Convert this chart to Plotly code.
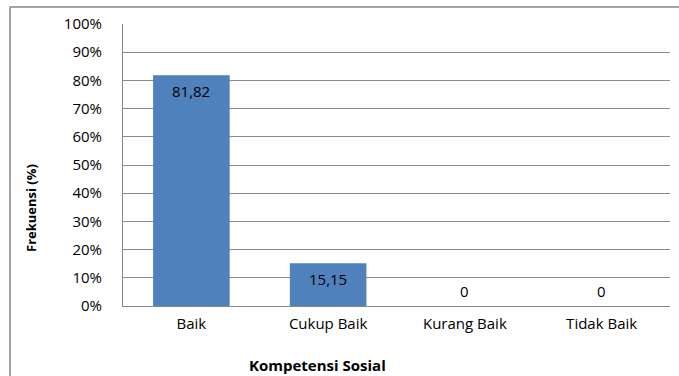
import plotly.graph_objects as go

categories = ["Baik", "Cukup Baik", "Kurang Baik", "Tidak Baik"]
values = [81.82, 15.15, 0, 0]
labels = ["81,82", "15,15", "0", "0"]
y_ticks = [0, 10, 20, 30, 40, 50, 60, 70, 80, 90, 100]
y_tick_labels = [f"{v}%" for v in y_ticks]

FONT = "Open Sans, Lato, sans-serif"

fig = go.Figure()
fig.add_trace(go.Bar(
    x=categories, y=values,
    marker=dict(color="#4F81BD", line=dict(width=0)),
    hoverinfo="x+y",
))

annotations = []
for cat, val, lab in zip(categories, values, labels):
    annotations.append(dict(
        x=cat, y=val, xref="x", yref="y", text=lab, showarrow=False,
        xanchor="center", yanchor="middle",
        yshift=-16 if val > 0 else 15,
        font=dict(family=FONT, size=15, color="black"),
    ))

annotations += [
    dict(text="<b>Kompetensi Sosial</b>", xref="paper", yref="paper",
         x=(317 - 123) / 547, y=(306 - 365) / 282, showarrow=False,
         font=dict(family=FONT, size=15), xanchor="center", yanchor="middle"),
    dict(text="<b>Frekuensi (%)</b>", xref="paper", yref="paper",
         x=(31 - 123) / 547, y=(306 - 208) / 282, showarrow=False, textangle=-90,
         font=dict(family=FONT, size=13), xanchor="center", yanchor="middle"),
]

fig.update_layout(
    width=679, height=376,
    margin=dict(l=123, r=9, t=24, b=70),
    paper_bgcolor="white", plot_bgcolor="white",
    bargap=0.44,
    showlegend=False,
    font=dict(family=FONT, size=15, color="black"),
    xaxis=dict(showgrid=False, showline=True, linecolor="#888888", linewidth=1,
               ticks="", tickfont=dict(size=15), ticklabelstandoff=4),
    yaxis=dict(range=[0, 100], tickvals=y_ticks, ticktext=y_tick_labels,
               showgrid=True, gridcolor="#8c8c8c", gridwidth=1,
               showline=True, linecolor="#888888", linewidth=1,
               ticks="", ticklabelstandoff=17, zeroline=False,
               tickfont=dict(size=15)),
    shapes=[dict(type="rect", xref="paper", yref="paper",
                 x0=(10 - 123) / 547, x1=1.2, y0=-0.5, y1=(306 - 7) / 282,
                 line=dict(color="#888888", width=1.5), fillcolor="rgba(0,0,0,0)",
                 layer="below")],
    annotations=annotations,
)

fig.write_html("out.html")
